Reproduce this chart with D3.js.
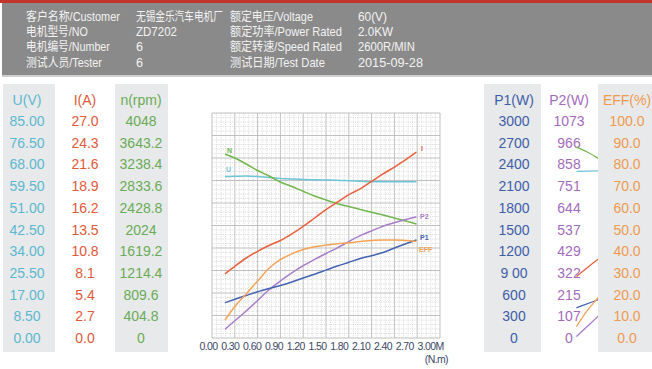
<!DOCTYPE html>
<html><head><meta charset="utf-8">
<script src="https://cdn.jsdelivr.net/npm/d3@7"></script>
<style>html,body{margin:0;padding:0;background:#fff;overflow:hidden}</style>
</head><body><svg id="c" width="652" height="369"></svg>
<script>
// ---------- data ----------
const headerRow1 = ["客户名称/Customer", "无锡金乐汽车电机厂", "额定电压/Voltage", "60(V)"];
const headerRow2 = ["电机型号/NO", "ZD7202", "额定功率/Power Rated", "2.0KW"];
const headerRow3 = ["电机编号/Number", "6", "额定转速/Speed Rated", "2600R/MIN"];
const headerRow4 = ["测试人员/Tester", "6", "测试日期/Test Date", "2015-09-28"];

const uTicks  = ["85.00","76.50","68.00","59.50","51.00","42.50","34.00","25.50","17.00","8.50","0.00"];
const iTicks  = ["27.0","24.3","21.6","18.9","16.2","13.5","10.8","8.1","5.4","2.7","0.0"];
const nTicks  = ["4048","3643.2","3238.4","2833.6","2428.8","2024","1619.2","1214.4","809.6","404.8","0"];
const p1Ticks = ["3000","2700","2400","2100","1800","1500","1200","9 00","600","300","0"];
const p2Ticks = ["1073","966","858","751","644","537","429","322","215","107","0"];
const effTicks= ["100.0","90.0","80.0","70.0","60.0","50.0","40.0","30.0","20.0","10.0","0.0"];

const xTickValues = [0,0.3,0.6,0.9,1.2,1.5,1.8,2.1,2.4,2.7,3.0];
const xTickLabels = ["0.00","0.30","0.60","0.90","1.20","1.50","1.80","2.10","2.40","2.70","3.00M"];

// torque (N.m) sample points
const torque = [0.17,0.3,0.45,0.6,0.75,0.9,1.05,1.2,1.35,1.5,1.65,1.8,1.95,2.1,2.25,2.4,2.55,2.69];
const seriesI  = [7.7,8.6,9.6,10.4,11.1,11.7,12.5,13.4,14.4,15.4,16.3,17.2,17.9,18.8,19.7,20.5,21.4,22.3];
const seriesN  = [3310,3238,3130,3013,2914,2807,2726,2639,2555,2483,2416,2366,2312,2261,2213,2159,2105,2051];
const seriesU  = [61.0,61.1,61.2,61.0,60.6,60.3,60.1,59.9,59.8,59.7,59.6,59.4,59.2,59.0,59.0,59.0,59.0,59.0];
const seriesP1 = [469,516,567,617,660,700,747,800,850,905,960,1009,1060,1098,1140,1200,1257,1307];
const seriesP2 = [41,82,129,179,230,272,310,345,375,403,430,460,488,511,533,550,565,578];
const seriesEff= [7.9,14.0,19.6,25.3,31.0,34.8,37.4,39.3,40.6,41.3,41.9,42.3,42.9,43.3,43.6,43.6,43.3,42.9];

// ---------- drawing ----------
const svg = d3.select("#c");
const W = 652, H = 369;
svg.append("rect").attr("width", W).attr("height", H).attr("fill", "#fff");

// header
svg.append("rect").attr("x",0).attr("y",0).attr("width",W).attr("height",3).attr("fill","#c2342b");
svg.append("rect").attr("x",2).attr("y",3).attr("width",W-2).attr("height",73).attr("fill","#8a8a8a");
svg.append("rect").attr("x",2).attr("y",75).attr("width",W-2).attr("height",2).attr("fill","#cfcfcf");

const headerCols = [26,136,230,358];
const headerWidths = [[94,87,83,29],[62,41,112,35],[84,0,112,57],[76,0,95,65]];
[headerRow1,headerRow2,headerRow3,headerRow4].forEach((row, r) => {
  row.forEach((t, c) => {
    const g = svg.append("g");
    const el = g.append("text").attr("x",0).attr("y",0)
      .attr("font-family", "'Liberation Sans','Noto Sans CJK SC',sans-serif")
      .attr("font-size", 12.5).attr("fill", "#f2f2f2").text(t);
    const w = headerWidths[r][c];
    let sx = 1;
    if (w > 0) sx = w / el.node().getComputedTextLength();
    g.attr("transform", `translate(${headerCols[c]},${21 + r*15.2}) scale(${sx},1)`);
  });
});

// side tables
const bgGray = "#e7e9eb";
[[3,52],[115,53],[484,57],[598,54]].forEach(([x,w]) => {
  svg.append("rect").attr("x",x).attr("y",84).attr("width",w).attr("height",268).attr("fill",bgGray);
});
const rowY = d3.scaleLinear().domain([0,10]).range([121,338]);
const tables = [
  {head:"U(V)",  ticks:uTicks,  cx:27,  color:"#5db8cf"},
  {head:"I(A)",  ticks:iTicks,  cx:85,  color:"#e2583a"},
  {head:"n(rpm)",ticks:nTicks,  cx:141, color:"#6aac55"},
  {head:"P1(W)", ticks:p1Ticks, cx:514, color:"#3f5ea8"},
  {head:"P2(W)", ticks:p2Ticks, cx:569, color:"#a46bbd"},
  {head:"EFF(%)",ticks:effTicks,cx:627, color:"#f09a4e"}
];
tables.forEach(tb => {
  const g = svg.append("g").attr("font-family","'Liberation Sans',Arial,sans-serif")
    .attr("font-size",14).attr("fill",tb.color).attr("text-anchor","middle");
  g.append("text").attr("x",tb.cx).attr("y",105).text(tb.head);
  g.selectAll("text.v").data(tb.ticks).enter().append("text").attr("class","v")
    .attr("x",tb.cx).attr("y",(d,i)=>rowY(i)+5).text(d=>d);
});

// plot area
const x = d3.scaleLinear().domain([0,3]).range([212,440]);
const frac = d3.scaleLinear().domain([0,1]).range([338,113]);
const grid = svg.append("g");
d3.range(0,3.0001,0.06).forEach((v,i) => {
  const major = i % 5 === 0;
  grid.append("line").attr("x1",x(v)).attr("x2",x(v)).attr("y1",113).attr("y2",338)
    .attr("stroke", major ? "#b9b9b9" : "#cfcfcf").attr("stroke-width", major?0.9:0.8)
    .attr("stroke-dasharray", major ? null : "1,1.2");
});
d3.range(0,1.0001,0.02).forEach((v,i) => {
  const major = i % 5 === 0;
  grid.append("line").attr("y1",frac(v)).attr("y2",frac(v)).attr("x1",212).attr("x2",440)
    .attr("stroke", major ? "#b9b9b9" : "#cfcfcf").attr("stroke-width", major?0.9:0.8)
    .attr("stroke-dasharray", major ? null : "1,1.2");
});

// x axis labels
const xLab = d3.scaleLinear().domain([0,3]).range([208,426]);
const axis = d3.axisBottom(xLab).tickValues(xTickValues).tickSize(0)
  .tickFormat((d,i)=>xTickLabels[i]);
const ax = svg.append("g").attr("transform","translate(0,341)").call(axis);
ax.select(".domain").remove();
ax.selectAll("text").attr("font-family","'Liberation Sans',Arial,sans-serif")
  .attr("font-size",10.5).attr("fill","#3b4765").attr("letter-spacing","-0.6")
  .attr("text-anchor","start").attr("dx",-9).attr("dy","0.55em");
svg.append("text").attr("x",448).attr("y",363).attr("text-anchor","end")
  .attr("font-family","'Liberation Sans',Arial,sans-serif").attr("font-size",10.5)
  .attr("letter-spacing","-0.6").attr("fill","#3b4765").text("(N.m)");

// curves
const curves = [
  {name:"U",   vals:seriesU,   max:85,   color:"#6cc5d6", lx:226, ly:172},
  {name:"N",   vals:seriesN,   max:4048, color:"#72b64e", lx:227, ly:153},
  {name:"I",   vals:seriesI,   max:27,   color:"#e8603c", lx:421, ly:151},
  {name:"P2",  vals:seriesP2,  max:1073, color:"#a77ccb", lx:420, ly:219},
  {name:"P1",  vals:seriesP1,  max:3000, color:"#4464b2", lx:420, ly:240},
  {name:"EFF", vals:seriesEff, max:100,  color:"#f4a356", lx:419, ly:252}
];
const plot = svg.append("g");
curves.forEach(c => {
  const y = d3.scaleLinear().domain([0,c.max]).range([338,113]);
  c.line = d3.line().x((d,i)=>x(torque[i])).y(d=>y(d)).curve(d3.curveMonotoneX);
  plot.append("path").attr("d", c.line(c.vals)).attr("fill","none")
    .attr("stroke", c.color).attr("stroke-width",1.5);
  plot.append("text").attr("x",c.lx).attr("y",c.ly).attr("font-family","'Liberation Sans',Arial,sans-serif")
    .attr("font-size",7).attr("font-weight","bold").attr("fill",c.color).text(c.name);
});

// faint duplicate of the curve starts seen through the P2 column
svg.append("clipPath").attr("id","ghostClip").append("rect")
  .attr("x",575).attr("y",130).attr("width",23).attr("height",215);
const ghost = svg.append("g").attr("clip-path","url(#ghostClip)")
  .append("g").attr("transform","translate(351.5,-19.2) scale(1,1.08)");
curves.forEach(c => {
  ghost.append("path").attr("d", c.line(c.vals)).attr("fill","none")
    .attr("stroke", c.color).attr("stroke-width",1.3).attr("vector-effect","non-scaling-stroke");
});
</script>
</body></html>
